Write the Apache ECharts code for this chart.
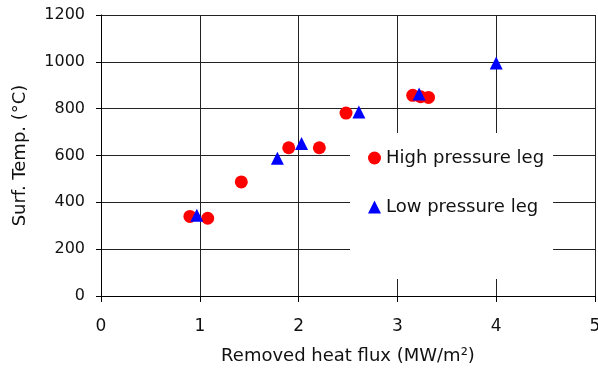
<!DOCTYPE html>
<html><head><meta charset="utf-8">
<script src="https://cdn.jsdelivr.net/npm/echarts@6/dist/echarts.min.js"></script>
<style>html,body{margin:0;padding:0;background:#fff}#c{width:598px;height:374px}</style>
</head><body><div id="c"></div>
<script>
const highX = [0.90, 1.08, 1.42, 1.90, 2.21, 2.48, 3.155, 3.235, 3.315];
const highY = [340, 332, 487, 633, 633, 781, 857, 851, 848];
const lowX = [0.97, 1.785, 2.03, 2.61, 3.22, 4.0];
const lowY = [345, 588, 651, 786, 863, 995];
const seriesNames = ['High pressure leg', 'Low pressure leg'];
const xTitle = 'Removed heat flux (MW/m²)';
const yTitle = 'Surf. Temp. (°C)';

const font = 'DejaVu Sans, sans-serif';
const chart = echarts.init(document.getElementById('c'), null, {renderer: 'canvas'});
chart.setOption({
  animation: false,
  grid: {left: 101, right: 3, top: 15, bottom: 78, containLabel: false, outerBoundsMode: 'none'},
  xAxis: {
    type: 'value', min: 0, max: 5, interval: 1,
    name: xTitle, nameLocation: 'middle', nameGap: 51,
    nameTextStyle: {fontFamily: font, fontSize: 18, color: '#111'},
    axisLine: {lineStyle: {color: '#000', width: 1}},
    axisTick: {show: true, length: 6, lineStyle: {color: '#000'}},
    axisLabel: {fontFamily: font, fontSize: 17, color: '#111', margin: 22},
    splitLine: {show: true, lineStyle: {color: '#222', width: 1}}
  },
  yAxis: {
    type: 'value', min: 0, max: 1200, interval: 200,
    name: yTitle, nameLocation: 'middle', nameGap: 72,
    nameTextStyle: {fontFamily: font, fontSize: 18, color: '#111'},
    axisLine: {show: true, lineStyle: {color: '#000', width: 1}},
    axisTick: {show: true, length: 5, lineStyle: {color: '#000'}},
    axisLabel: {fontFamily: font, fontSize: 16, color: '#111', margin: 16,
                formatter: v => String(v)},
    splitLine: {show: true, lineStyle: {color: '#222', width: 1}}
  },
  legend: {
    orient: 'vertical', left: 350, top: 133,
    backgroundColor: '#fff', padding: [16, 9, 63, 18],
    itemGap: 31, itemWidth: 13, itemHeight: 13,
    textStyle: {fontFamily: font, fontSize: 18, lineHeight: 18, color: '#111'},
    data: [{name: seriesNames[0], icon: 'circle'}, {name: seriesNames[1], icon: 'triangle'}]
  },
  series: [
    {name: seriesNames[0], type: 'scatter', symbol: 'circle', symbolSize: 13,
     itemStyle: {color: '#ff0000', opacity: 1},
     data: highX.map((x, i) => [x, highY[i]])},
    {name: seriesNames[1], type: 'scatter', symbol: 'triangle', symbolSize: 13,
     itemStyle: {color: '#0000ff', opacity: 1},
     data: lowX.map((x, i) => [x, lowY[i]])}
  ]
});
</script></body></html>
